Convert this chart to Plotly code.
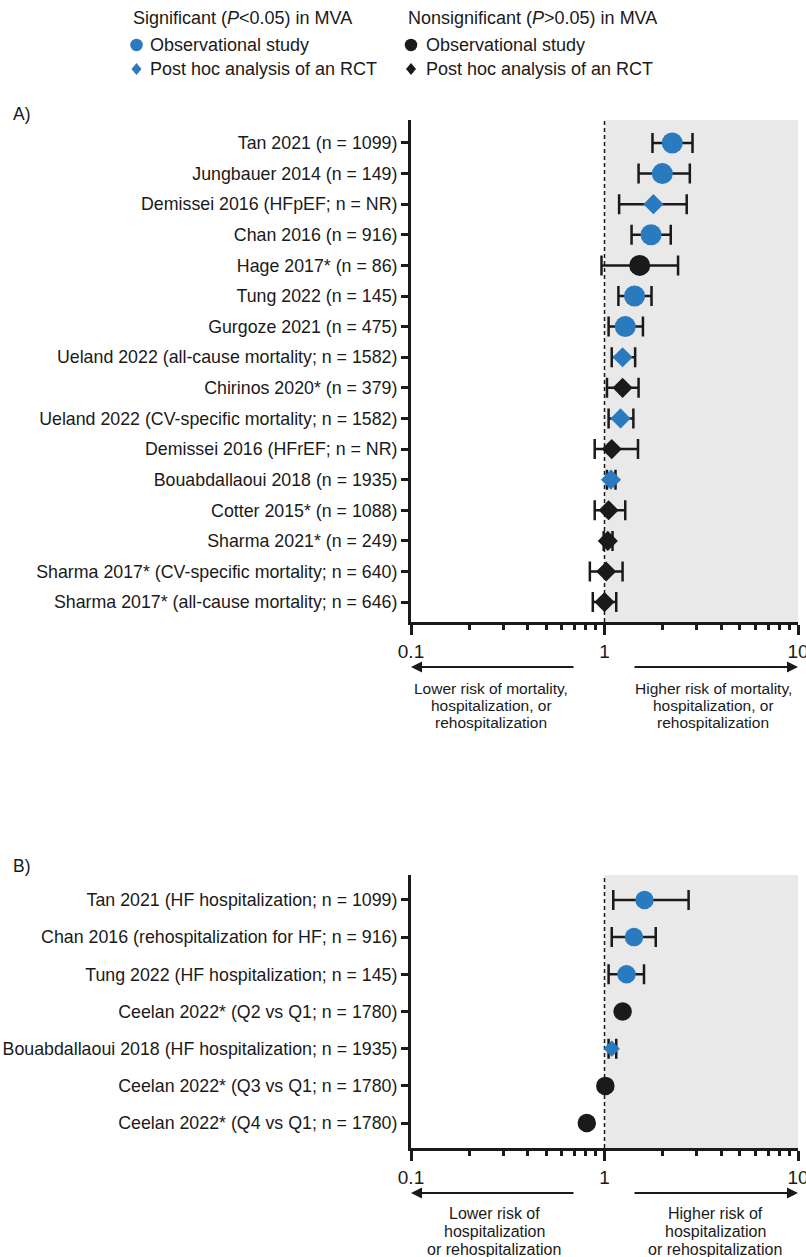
import plotly.graph_objects as go

W, H = 806, 1257
FONT = "Liberation Sans, Arial, Helvetica, sans-serif"
BLUE = "#2a7abf"
BLACK = "#1a1a1a"
GRAY = "#e9e9e9"

# ---------------- Data: panel A (mortality) ----------------
A_labels = [
    "Tan 2021 (n = 1099)",
    "Jungbauer 2014 (n = 149)",
    "Demissei 2016 (HFpEF; n = NR)",
    "Chan 2016 (n = 916)",
    "Hage 2017* (n = 86)",
    "Tung 2022 (n = 145)",
    "Gurgoze 2021 (n = 475)",
    "Ueland 2022 (all-cause mortality; n = 1582)",
    "Chirinos 2020* (n = 379)",
    "Ueland 2022 (CV-specific mortality; n = 1582)",
    "Demissei 2016 (HFrEF; n = NR)",
    "Bouabdallaoui 2018 (n = 1935)",
    "Cotter 2015* (n = 1088)",
    "Sharma 2021* (n = 249)",
    "Sharma 2017* (CV-specific mortality; n = 640)",
    "Sharma 2017* (all-cause mortality; n = 646)",
]
A_hr = [2.24, 1.99, 1.79, 1.74, 1.52, 1.43, 1.28, 1.24, 1.24, 1.21, 1.09, 1.08, 1.05, 1.04, 1.02, 1.00]
A_lo = [1.77, 1.50, 1.19, 1.38, 0.965, 1.18, 1.05, 1.09, 1.03, 1.05, 0.89, 1.03, 0.89, 0.99, 0.84, 0.87]
A_hi = [2.85, 2.76, 2.66, 2.20, 2.40, 1.75, 1.58, 1.44, 1.50, 1.41, 1.49, 1.14, 1.28, 1.10, 1.24, 1.15]
A_sig = [True, True, True, True, False, True, True, True, False, True, False, True, False, False, False, False]
A_design = ["obs", "obs", "rct", "obs", "obs", "obs", "obs", "rct", "rct", "rct", "rct", "rct", "rct", "rct", "rct", "rct"]

# ---------------- Data: panel B (hospitalization) ----------------
B_labels = [
    "Tan 2021 (HF hospitalization; n = 1099)",
    "Chan 2016 (rehospitalization for HF; n = 916)",
    "Tung 2022 (HF hospitalization; n = 145)",
    "Ceelan 2022* (Q2 vs Q1; n = 1780)",
    "Bouabdallaoui 2018 (HF hospitalization; n = 1935)",
    "Ceelan 2022* (Q3 vs Q1; n = 1780)",
    "Ceelan 2022* (Q4 vs Q1; n = 1780)",
]
B_hr = [1.61, 1.42, 1.30, 1.24, 1.09, 1.01, 0.81]
B_lo = [1.11, 1.09, 1.05, None, 1.05, None, None]
B_hi = [2.72, 1.84, 1.60, None, 1.15, None, None]
B_sig = [True, True, True, False, True, False, False]
B_design = ["obs", "obs", "obs", "obs", "rct", "obs", "obs"]

X_TICKS = [0.1, 1, 10]
X_TICK_TEXT = ["0.1", "1", "10"]
X_MINOR = [0.2, 0.3, 0.4, 0.5, 0.6, 0.7, 0.8, 0.9, 2, 3, 4, 5, 6, 7, 8, 9]


def fx(p):
    return p / W


def fy(p):
    return 1 - p / H


fig = go.Figure()


def add_panel(labels, hr, lo, hi, sig, design, xa, ya, circ_size, dia_size):
    groups = {}
    for i in range(len(labels)):
        has_ci = lo[i] is not None and hi[i] is not None
        key = (sig[i], design[i], has_ci)
        groups.setdefault(key, []).append(i)
    for (s, d, has_ci), idx in groups.items():
        color = BLUE if s else BLACK
        symbol = "circle" if d == "obs" else "diamond"
        size = circ_size if d == "obs" else dia_size
        tr = dict(
            x=[hr[i] for i in idx],
            y=[labels[i] for i in idx],
            mode="markers",
            marker=dict(symbol=symbol, size=size, color=color, line=dict(width=0)),
            xaxis=xa,
            yaxis=ya,
            showlegend=False,
            hoverinfo="skip",
        )
        if has_ci:
            tr["error_x"] = dict(
                type="data",
                symmetric=False,
                array=[hi[i] - hr[i] for i in idx],
                arrayminus=[hr[i] - lo[i] for i in idx],
                color=BLACK,
                thickness=2.5,
                width=10,
            )
        fig.add_trace(go.Scatter(**tr))


add_panel(A_labels, A_hr, A_lo, A_hi, A_sig, A_design, "x", "y", 21, 15.5)
add_panel(B_labels, B_hr, B_lo, B_hi, B_sig, B_design, "x2", "y2", 18.5, 12.5)

# panel geometry (pixels)
X_L, X_R = 411, 798
A_T, A_B = 120, 622
B_T, B_B = 875, 1148

xcommon = dict(
    type="log",
    range=[-1, 1],
    automargin=False,
    showgrid=False,
    zeroline=False,
    showline=True,
    linewidth=3,
    linecolor=BLACK,
    ticks="outside",
    ticklen=10,
    tickwidth=2.5,
    tickcolor=BLACK,
    tickvals=X_TICKS,
    ticktext=X_TICK_TEXT,
    ticklabeloverflow="allow",
    tickfont=dict(family=FONT, size=19, color=BLACK),
    minor=dict(tickvals=X_MINOR, ticks="outside", ticklen=5, tickwidth=2.5, tickcolor=BLACK, showgrid=False),
    fixedrange=True,
)
ycommon = dict(
    type="category",
    automargin=False,
    showgrid=False,
    zeroline=False,
    showline=True,
    linewidth=3,
    linecolor=BLACK,
    ticks="outside",
    ticklen=7,
    tickwidth=2.5,
    tickcolor=BLACK,
    ticklabelstandoff=0,
    ticklabeloverflow="allow",
    tickfont=dict(family=FONT, size=17.8, color=BLACK),
    categoryorder="array",
    fixedrange=True,
)

fig.update_layout(
    width=W,
    height=H,
    autosize=False,
    margin=dict(l=0, r=0, t=0, b=0, pad=0, autoexpand=False),
    paper_bgcolor="white",
    plot_bgcolor="white",
    font=dict(family=FONT, color=BLACK),
    xaxis=dict(xcommon, domain=[fx(X_L), fx(X_R)], anchor="y"),
    yaxis=dict(ycommon, domain=[fy(A_B), fy(A_T)], anchor="x",
               categoryarray=A_labels, range=[len(A_labels) - 0.35, -0.75]),
    xaxis2=dict(xcommon, domain=[fx(X_L), fx(X_R)], anchor="y2"),
    yaxis2=dict(ycommon, domain=[fy(B_B), fy(B_T)], anchor="x2",
                categoryarray=B_labels, range=[len(B_labels) - 0.33, -0.67]),
)

shapes = []
for xr, yr in (("x", "y domain"), ("x2", "y2 domain")):
    shapes.append(dict(type="rect", xref=xr, yref=yr, x0=1, x1=10, y0=0, y1=1,
                       fillcolor=GRAY, line=dict(width=0), layer="below"))
    shapes.append(dict(type="line", xref=xr, yref=yr, x0=1, x1=1, y0=0, y1=1,
                       line=dict(color=BLACK, width=1.5, dash="4px,3px"), layer="below"))


# legend symbols
def circle_shape(cx, cy, d, color):
    return dict(type="circle", xref="paper", yref="paper",
                x0=fx(cx - d / 2), x1=fx(cx + d / 2), y0=fy(cy + d / 2), y1=fy(cy - d / 2),
                fillcolor=color, line=dict(width=0))


def diamond_shape(cx, cy, w, h, color):
    path = "M {:.5f},{:.5f} L {:.5f},{:.5f} L {:.5f},{:.5f} L {:.5f},{:.5f} Z".format(
        fx(cx), fy(cy - h / 2), fx(cx + w / 2), fy(cy), fx(cx), fy(cy + h / 2), fx(cx - w / 2), fy(cy))
    return dict(type="path", xref="paper", yref="paper", path=path,
                fillcolor=color, line=dict(width=0))


shapes.append(circle_shape(136.5, 45, 12.5, BLUE))
shapes.append(diamond_shape(136.5, 69, 10, 12, BLUE))
shapes.append(circle_shape(411, 45, 12.5, BLACK))
shapes.append(diamond_shape(411, 69, 10, 12, BLACK))
fig.update_layout(shapes=shapes)

ann = []


def text(x, y, s, size, anchor="left"):
    ann.append(dict(xref="paper", yref="paper", x=fx(x), y=fy(y), text=s, showarrow=False,
                    xanchor=anchor, yanchor="middle", font=dict(family=FONT, size=size, color=BLACK)))


def arrow(x_tail, x_tip, y):
    ann.append(dict(xref="paper", yref="paper", axref="pixel", ayref="pixel",
                    x=fx(x_tip), y=fy(y), ax=x_tail - x_tip, ay=0, text="",
                    showarrow=True, arrowhead=2, arrowsize=1.1, arrowwidth=2, arrowcolor=BLACK,
                    standoff=0, startstandoff=0))


# legend
text(131, 18, "Significant (<i>P</i>&lt;0.05) in MVA", 18)
text(148, 45, "Observational study", 18)
text(148, 69, "Post hoc analysis of an RCT", 18)
text(406, 18, "Nonsignificant (<i>P</i>&gt;0.05) in MVA", 18)
text(424, 45, "Observational study", 18)
text(424, 69, "Post hoc analysis of an RCT", 18)

# panel labels
text(11, 114, "A)", 17.5)
text(11, 866, "B)", 17.5)

# panel A arrows and texts
arrow(575, 411, 667)
arrow(633, 798, 667)
for i, s in enumerate(["Lower risk of mortality,", "hospitalization, or", "rehospitalization"]):
    text(491, 688 + 17.5 * i, s, 15.5, "center")
for i, s in enumerate(["Higher risk of mortality,", "hospitalization, or", "rehospitalization"]):
    text(713, 688 + 17.5 * i, s, 15.5, "center")

# panel B arrows and texts
arrow(575, 411, 1193)
arrow(633, 798, 1193)
for i, s in enumerate(["Lower risk of", "hospitalization", "or rehospitalization"]):
    text(494, 1213 + 18.3 * i, s, 16, "center")
for i, s in enumerate(["Higher risk of", "hospitalization", "or rehospitalization"]):
    text(715, 1213 + 18.3 * i, s, 16, "center")

fig.update_layout(annotations=ann)

# remove the default page margin so the figure fills the window exactly
fig.write_html(
    "out.html",
    config={"displayModeBar": False, "responsive": False},
    post_script="document.body.style.margin='0';document.body.style.overflow='hidden';",
)
